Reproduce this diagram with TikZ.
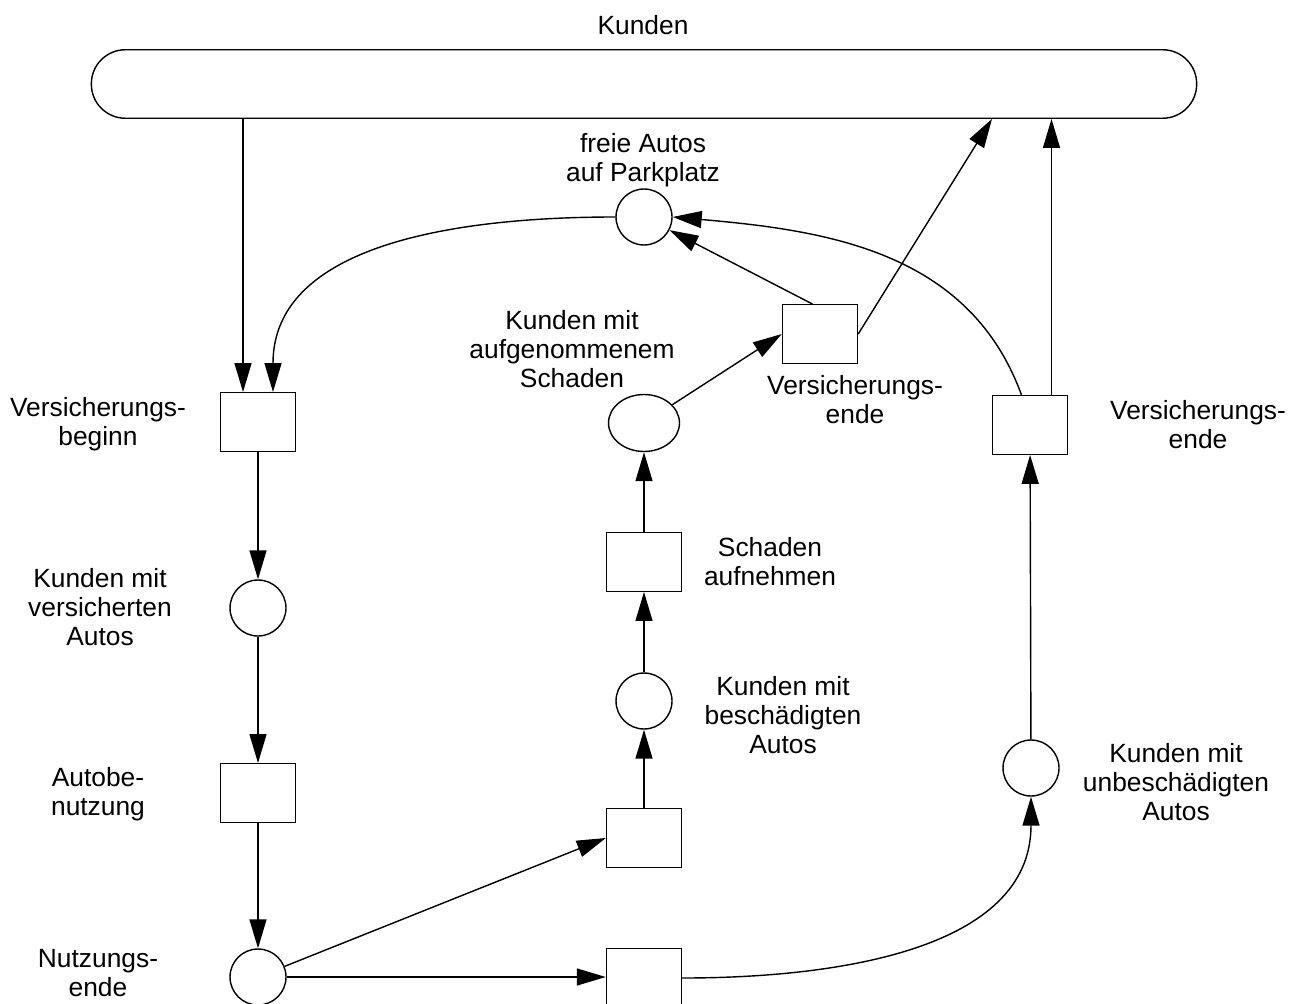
\documentclass[tikz,border=0pt]{standalone}
\usepackage{fontspec}
\setmainfont{Liberation Sans}
\usetikzlibrary{arrows.meta,shapes.geometric}

\begin{document}
\begin{tikzpicture}[x=0.02cm,y=-0.02cm,font=\fontsize{15pt}{16.5pt}\selectfont,line width=0.8pt,
  platz/.style={circle,draw,minimum size=1.12cm,inner sep=0pt},
  trans/.style={rectangle,draw,minimum width=1.5cm,minimum height=1.17cm,inner sep=0pt},
  txt/.style={align=center,inner sep=0pt},
  pfeil/.style={-{Triangle[length=0.58cm,width=0.34cm]}}]
\useasboundingbox (0,0) rectangle (1300,1003);

% Kunden
\node[draw,rounded corners=0.68cm,minimum width=22.11cm,minimum height=1.37cm,inner sep=0pt] (kunden) at (644,84) {};
\node[txt] (lkunden) at (643,25) {Kunden};

% Stellen
\node[platz] (frei) at (644,217) {};
\node[draw,ellipse,minimum width=1.42cm,minimum height=1.14cm,inner sep=0pt] (aufg) at (644,423) {};
\node[platz] (versich) at (258,608) {};
\node[platz] (besch) at (644,701) {};
\node[platz] (unbesch) at (1031,768) {};
\node[platz] (nutzende) at (258,977) {};

% Transitionen
\node[trans] (vbeginn) at (258,422) {};
\node[trans] (autob) at (258,793) {};
\node[trans] (vende) at (820,334) {};
\node[trans] (saufn) at (644,562) {};
\node[trans] (tbesch) at (644,838) {};
\node[trans] (tunbesch) at (644,978) {};
\node[trans] (vende2) at (1030,425) {};

% Beschriftungen
\node[txt] (lfrei) at (643,160) {freie Autos\\auf Parkplatz};
\node[txt] (laufg) at (572,349) {Kunden mit\\aufgenommenem\\Schaden};
\node[txt] (lvende) at (855,400) {Versicherungs-\\ende};
\node[txt] (lvbeginn) at (98,424) {Versicherungs-\\beginn};
\node[txt] (lvende2) at (1198,425) {Versicherungs-\\ende};
\node[txt] (lsaufn) at (770,562) {Schaden\\aufnehmen};
\node[txt] (lversich) at (100,607) {Kunden mit\\versicherten\\Autos};
\node[txt] (lbesch) at (783,715) {Kunden mit\\beschädigten\\Autos};
\node[txt] (lautob) at (98,794) {Autobe-\\nutzung};
\node[txt] (lunbesch) at (1176,782) {Kunden mit\\unbeschädigten\\Autos};
\node[txt] (lnutzende) at (98,973) {Nutzungs-\\ende};

% Kanten
\coordinate (vb1) at ([xshift=-0.3cm]vbeginn.north);
\coordinate (vb2) at ([xshift=0.3cm]vbeginn.north);
\coordinate (ve1) at ([xshift=-0.15cm]vende.north);
\coordinate (ve2a) at ([xshift=-0.17cm]vende2.north);
\coordinate (ve2b) at ([xshift=0.43cm]vende2.north);
\coordinate (kende) at (kunden.south -| 992,0);
\draw[pfeil] (vb1 |- kunden.south) -- (vb1);
\draw[pfeil] (frei.west) to[out=180,in=90] (vb2);
\draw[pfeil] (vbeginn) -- (versich);
\draw[pfeil] (versich) -- (autob);
\draw[pfeil] (autob) -- (nutzende);
\draw[pfeil] (nutzende) -- (tbesch.west);
\draw[pfeil] (nutzende.east) -- (nutzende.east -| tunbesch.west);
\draw[pfeil] (tbesch) -- (besch);
\draw[pfeil] (besch) -- (saufn);
\draw[pfeil] (saufn) -- (aufg);
\draw[pfeil] (aufg) -- (vende.west);
\draw[pfeil] (ve1) -- (frei);
\draw[pfeil] (vende.east) -- (kende);
\draw[pfeil] (ve2a) to[out=110,in=-5] (frei.east);
\draw[pfeil] (ve2b) -- (ve2b |- kunden.south);
\draw[pfeil] (unbesch) -- (vende2);
\draw[pfeil] (tunbesch.east) to[out=0,in=-90] (unbesch);
\end{tikzpicture}
\end{document}
